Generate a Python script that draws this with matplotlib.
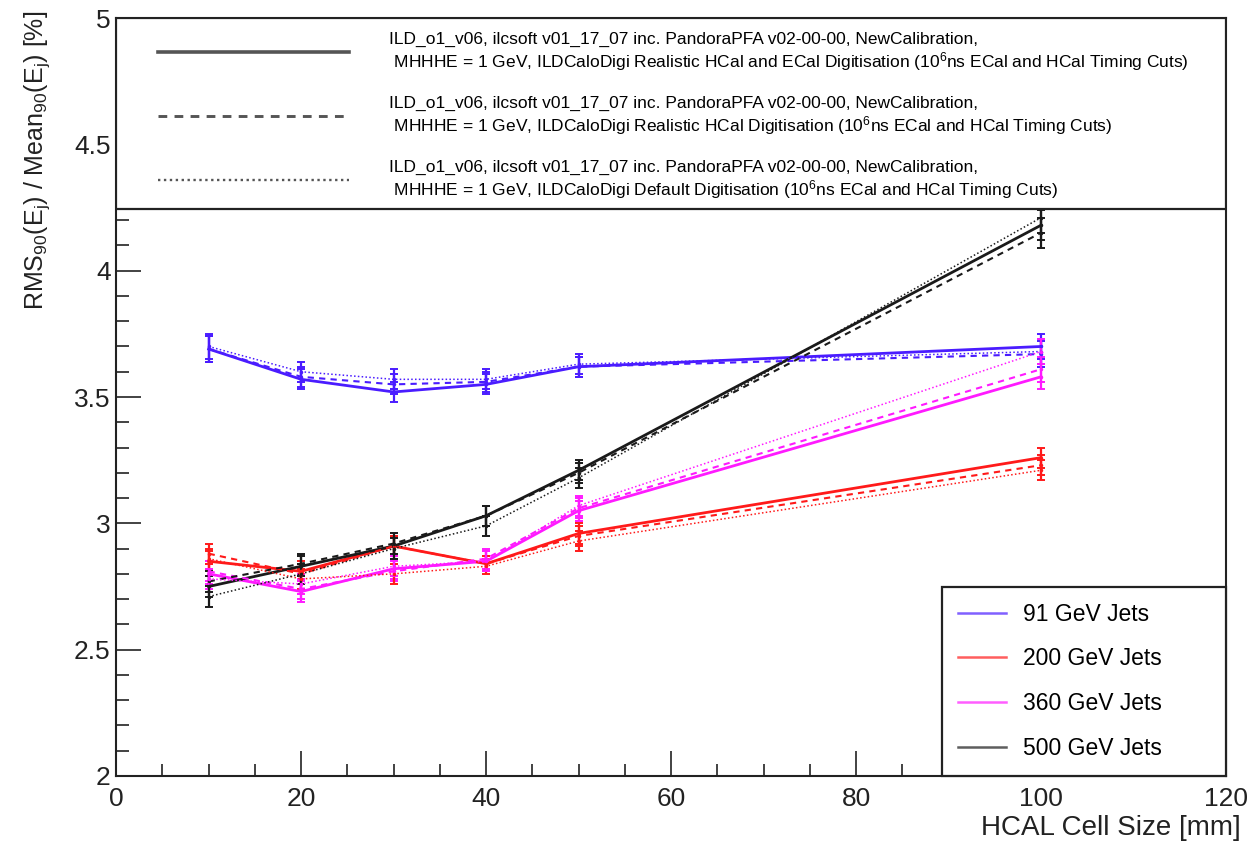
import numpy as np
import matplotlib
matplotlib.use("Agg")
import matplotlib.pyplot as plt
from matplotlib.lines import Line2D
from matplotlib.ticker import MultipleLocator, FuncFormatter

plt.rcParams['font.family'] = ['Liberation Sans', 'DejaVu Sans']
plt.rcParams['mathtext.fontset'] = 'custom'
plt.rcParams['mathtext.rm'] = 'Liberation Sans'
plt.rcParams['mathtext.it'] = 'Liberation Sans'

# HCAL cell sizes [mm]
cell_size = [10, 20, 30, 40, 50, 100]

# jet energies and colours
jet_labels = ['91 GeV Jets', '200 GeV Jets', '360 GeV Jets', '500 GeV Jets']
jet_colors = ['#4a1cff', '#ff1a1a', '#ff1aff', '#1a1a1a']

# resolution [%] for the three digitisation options (solid, dashed, dotted)
res_realistic_both = [
    [3.69, 3.57, 3.52, 3.55, 3.62, 3.70],
    [2.85, 2.81, 2.91, 2.84, 2.96, 3.26],
    [2.80, 2.73, 2.82, 2.85, 3.05, 3.58],
    [2.75, 2.83, 2.91, 3.03, 3.21, 4.18],
]
res_realistic_hcal = [
    [3.69, 3.58, 3.55, 3.56, 3.62, 3.67],
    [2.88, 2.80, 2.91, 2.84, 2.95, 3.23],
    [2.81, 2.74, 2.81, 2.86, 3.06, 3.61],
    [2.77, 2.84, 2.92, 3.03, 3.20, 4.15],
]
res_default = [
    [3.70, 3.60, 3.57, 3.57, 3.63, 3.68],
    [2.86, 2.78, 2.80, 2.83, 2.93, 3.21],
    [2.78, 2.76, 2.83, 2.85, 3.07, 3.68],
    [2.71, 2.80, 2.90, 2.99, 3.18, 4.21],
]
# statistical uncertainties [%]
res_err = [
    [0.05, 0.04, 0.04, 0.04, 0.04, 0.05],
    [0.04, 0.04, 0.04, 0.03, 0.04, 0.04],
    [0.04, 0.04, 0.04, 0.04, 0.04, 0.05],
    [0.04, 0.04, 0.04, 0.04, 0.04, 0.06],
]

setup_labels = [
    'ILD_o1_v06, ilcsoft v01_17_07 inc. PandoraPFA v02-00-00, NewCalibration,\n'
    ' MHHHE = 1 GeV, ILDCaloDigi Realistic HCal and ECal Digitisation (10$^6$ns ECal and HCal Timing Cuts)',
    'ILD_o1_v06, ilcsoft v01_17_07 inc. PandoraPFA v02-00-00, NewCalibration,\n'
    ' MHHHE = 1 GeV, ILDCaloDigi Realistic HCal Digitisation (10$^6$ns ECal and HCal Timing Cuts)',
    'ILD_o1_v06, ilcsoft v01_17_07 inc. PandoraPFA v02-00-00, NewCalibration,\n'
    ' MHHHE = 1 GeV, ILDCaloDigi Default Digitisation (10$^6$ns ECal and HCal Timing Cuts)',
]
legend_box_low = 4.245  # lower edge of the description box

styles = ['-', (0, (3, 2.5)), (0, (1, 1.5))]
widths = [2.0, 1.5, 1.1]

fig = plt.figure(figsize=(12.49, 8.43), dpi=100)
ax = fig.add_axes([0.093, 0.0795, 0.8886, 0.8991])

for series, ls, lw in zip([res_realistic_both, res_realistic_hcal, res_default], styles, widths):
    for vals, errs, col in zip(series, res_err, jet_colors):
        ax.errorbar(cell_size, vals, yerr=errs, color=col, ls=ls, lw=lw,
                    elinewidth=1.6, capsize=3, capthick=1.4, marker='.', ms=3)

ax.set_xlim(0, 120)
ax.set_ylim(2, 5)
ax.xaxis.set_major_locator(MultipleLocator(20))
ax.xaxis.set_minor_locator(MultipleLocator(5))
ax.yaxis.set_major_locator(MultipleLocator(0.5))
ax.yaxis.set_minor_locator(MultipleLocator(0.1))
ax.tick_params(which='both', direction='in', labelsize=19, width=1.2, colors='#222222')
ax.tick_params(which='major', length=18)
ax.tick_params(which='minor', length=9)
ax.tick_params(axis='x', pad=8)
ax.tick_params(axis='y', pad=4)
ax.yaxis.set_major_formatter(FuncFormatter(lambda v, p: f'{v:g}'))
for s in ax.spines.values():
    s.set_linewidth(1.5)
    s.set_color('#222222')

ax.set_xlabel('HCAL Cell Size [mm]', fontsize=20, loc='right', color='#222222')
ax.xaxis.set_label_coords(1.013, -0.052)
ax.set_ylabel('RMS$_{90}$(E$_j$) / Mean$_{90}$(E$_j$) [%]', fontsize=18, loc='top', color='#222222')
ax.yaxis.set_label_coords(-0.058, 1.01)

# white description box at the top of the frame
ax.axhspan(legend_box_low, 5, facecolor='white', edgecolor='#222222', lw=1.6, zorder=5)

setup_handles = [Line2D([], [], color='#555555', ls=ls, lw=lw + 0.6) for ls, lw in zip(styles, widths)]
leg_top = ax.legend(setup_handles, setup_labels, loc='upper left', bbox_to_anchor=(0.038, 0.982),
                    fontsize=12.5, handlelength=11, handletextpad=2.3, labelspacing=1.3,
                    borderpad=0, borderaxespad=0, frameon=False)
leg_top.set_zorder(6)
ax.add_artist(leg_top)

jet_handles = [Line2D([], [], color=c, lw=1.8, alpha=0.7) for c in jet_colors]
leg_jets = ax.legend(jet_handles, jet_labels, loc='lower left', bbox_to_anchor=(0.744, 0, 0.256, 0.25),
                     mode='expand', fontsize=16.5, handlelength=2.1, handletextpad=0.75,
                     labelspacing=0.95, borderpad=0.7, fancybox=False, framealpha=1,
                     edgecolor='#222222', borderaxespad=0)
leg_jets.get_frame().set_linewidth(1.6)
leg_jets.set_zorder(6)

fig.savefig('out.png', dpi=100)
